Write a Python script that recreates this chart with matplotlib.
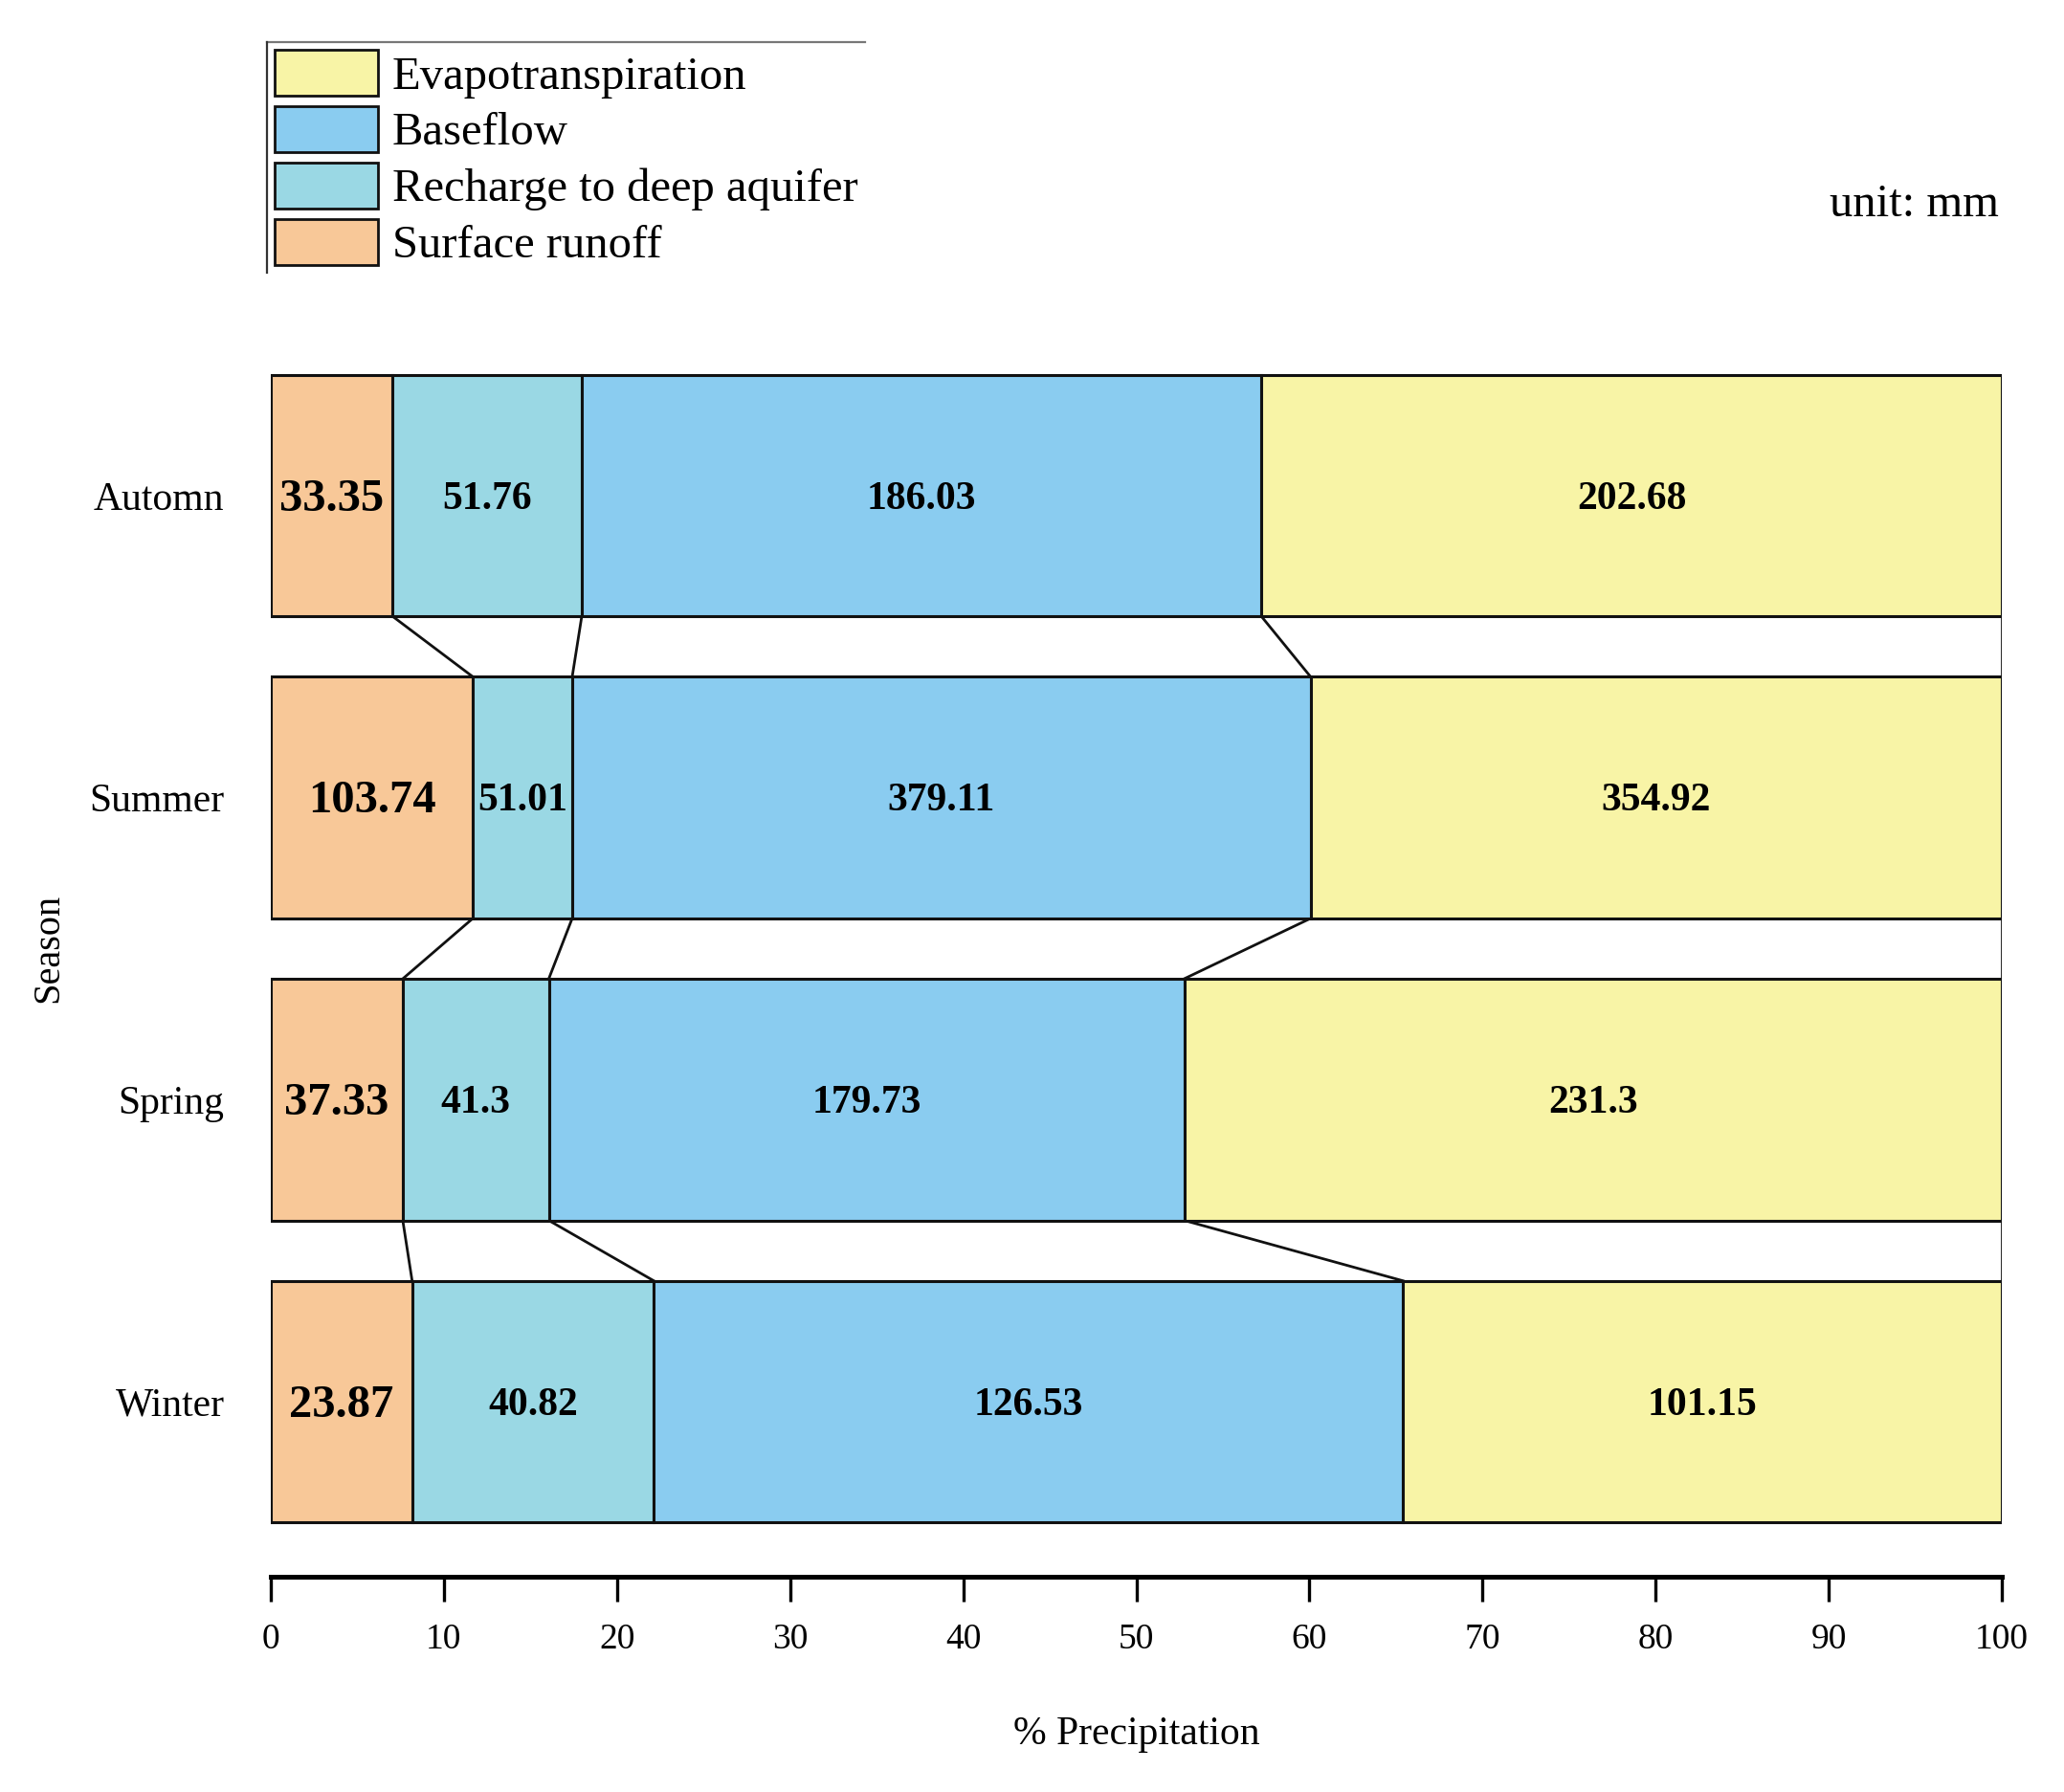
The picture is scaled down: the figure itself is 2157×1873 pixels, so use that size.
import matplotlib
matplotlib.use("Agg")
import matplotlib.pyplot as plt
from matplotlib.patches import Patch
from matplotlib.lines import Line2D
import numpy as np

plt.rcParams['font.family'] = ['Liberation Serif', 'DejaVu Serif']

seasons = ['Automn', 'Summer', 'Spring', 'Winter']
surface_runoff = [33.35, 103.74, 37.33, 23.87]
recharge = [51.76, 51.01, 41.3, 40.82]
baseflow = [186.03, 379.11, 179.73, 126.53]
evapotranspiration = [202.68, 354.92, 231.3, 101.15]

components = ['Surface runoff', 'Recharge to deep aquifer', 'Baseflow', 'Evapotranspiration']
colors = ['#F8C898', '#9AD8E4', '#8ACCF0', '#F8F4A6']

vals = np.array([surface_runoff, recharge, baseflow, evapotranspiration])  # (4 comps, 4 seasons)
pct = vals / vals.sum(axis=0) * 100
cum = np.cumsum(pct, axis=0)
left = cum - pct

ypos = np.array([3, 2, 1, 0])
h = 0.8

fig = plt.figure(figsize=(21.57, 18.73), dpi=100)
ax = fig.add_axes([0.1312, 0.1201, 0.8387, 0.6792])

for i in range(4):
    ax.barh(ypos, pct[i], left=left[i], height=h, color=colors[i],
            edgecolor='#111111', linewidth=2.2, zorder=2)
    for j in range(4):
        size = 35 if i == 0 else 30
        ax.text(left[i, j] + pct[i, j] / 2, ypos[j] - 0.012, f"{vals[i, j]:g}",
                ha='center', va='center', fontsize=size, fontweight='bold', zorder=3)

# connecting lines between neighbouring bars
for i in range(4):
    for j in range(3):
        ax.plot([cum[i, j], cum[i, j + 1]], [ypos[j] - h / 2, ypos[j + 1] + h / 2],
                color='#111111', linewidth=2.0, zorder=1)

ax.set_xlim(0, 100)
ax.set_ylim(-0.58, 3.45)
ax.set_xticks(np.arange(0, 101, 10))
ax.set_yticks(ypos)
ax.set_yticklabels(seasons)
ax.tick_params(axis='x', direction='out', length=19, width=2.4, pad=16, labelsize=27)
ax.tick_params(axis='y', length=0, pad=35, labelsize=30)
for s in ['left', 'top', 'right']:
    ax.spines[s].set_visible(False)
ax.spines['bottom'].set_linewidth(3.6)

ax.set_xlabel('% Precipitation', fontsize=30, va='center')
ax.xaxis.set_label_coords(0.5, -0.1296)
ax.set_ylabel('Season', fontsize=29, va='center')
ax.yaxis.set_label_coords(-0.1283, 0.5165)

fig.text(2089 / 2157, 1 - 214 / 1873, 'unit: mm', ha='right', va='center', fontsize=35)

handles = [Patch(facecolor=colors[k], edgecolor='#111111', linewidth=2.0) for k in [3, 2, 1, 0]]
labels = [components[k] for k in [3, 2, 1, 0]]
fig.legend(handles, labels, loc='upper left', bbox_to_anchor=(287 / 2157, 1 - 52 / 1873),
           frameon=False, fontsize=35, borderpad=0, borderaxespad=0,
           handlelength=2.22, handleheight=1.15, labelspacing=0.17, handletextpad=0.3)

# partial legend frame (top and left only)
W, H = 2157, 1873
fig.add_artist(Line2D([279 / W, 904 / W], [1 - 44 / H, 1 - 44 / H], transform=fig.transFigure,
                      color='#777777', linewidth=1.6))
fig.add_artist(Line2D([279 / W, 279 / W], [1 - 44 / H, 1 - 285 / H], transform=fig.transFigure,
                      color='#333333', linewidth=1.6))

fig.savefig('out.png', dpi=100)
